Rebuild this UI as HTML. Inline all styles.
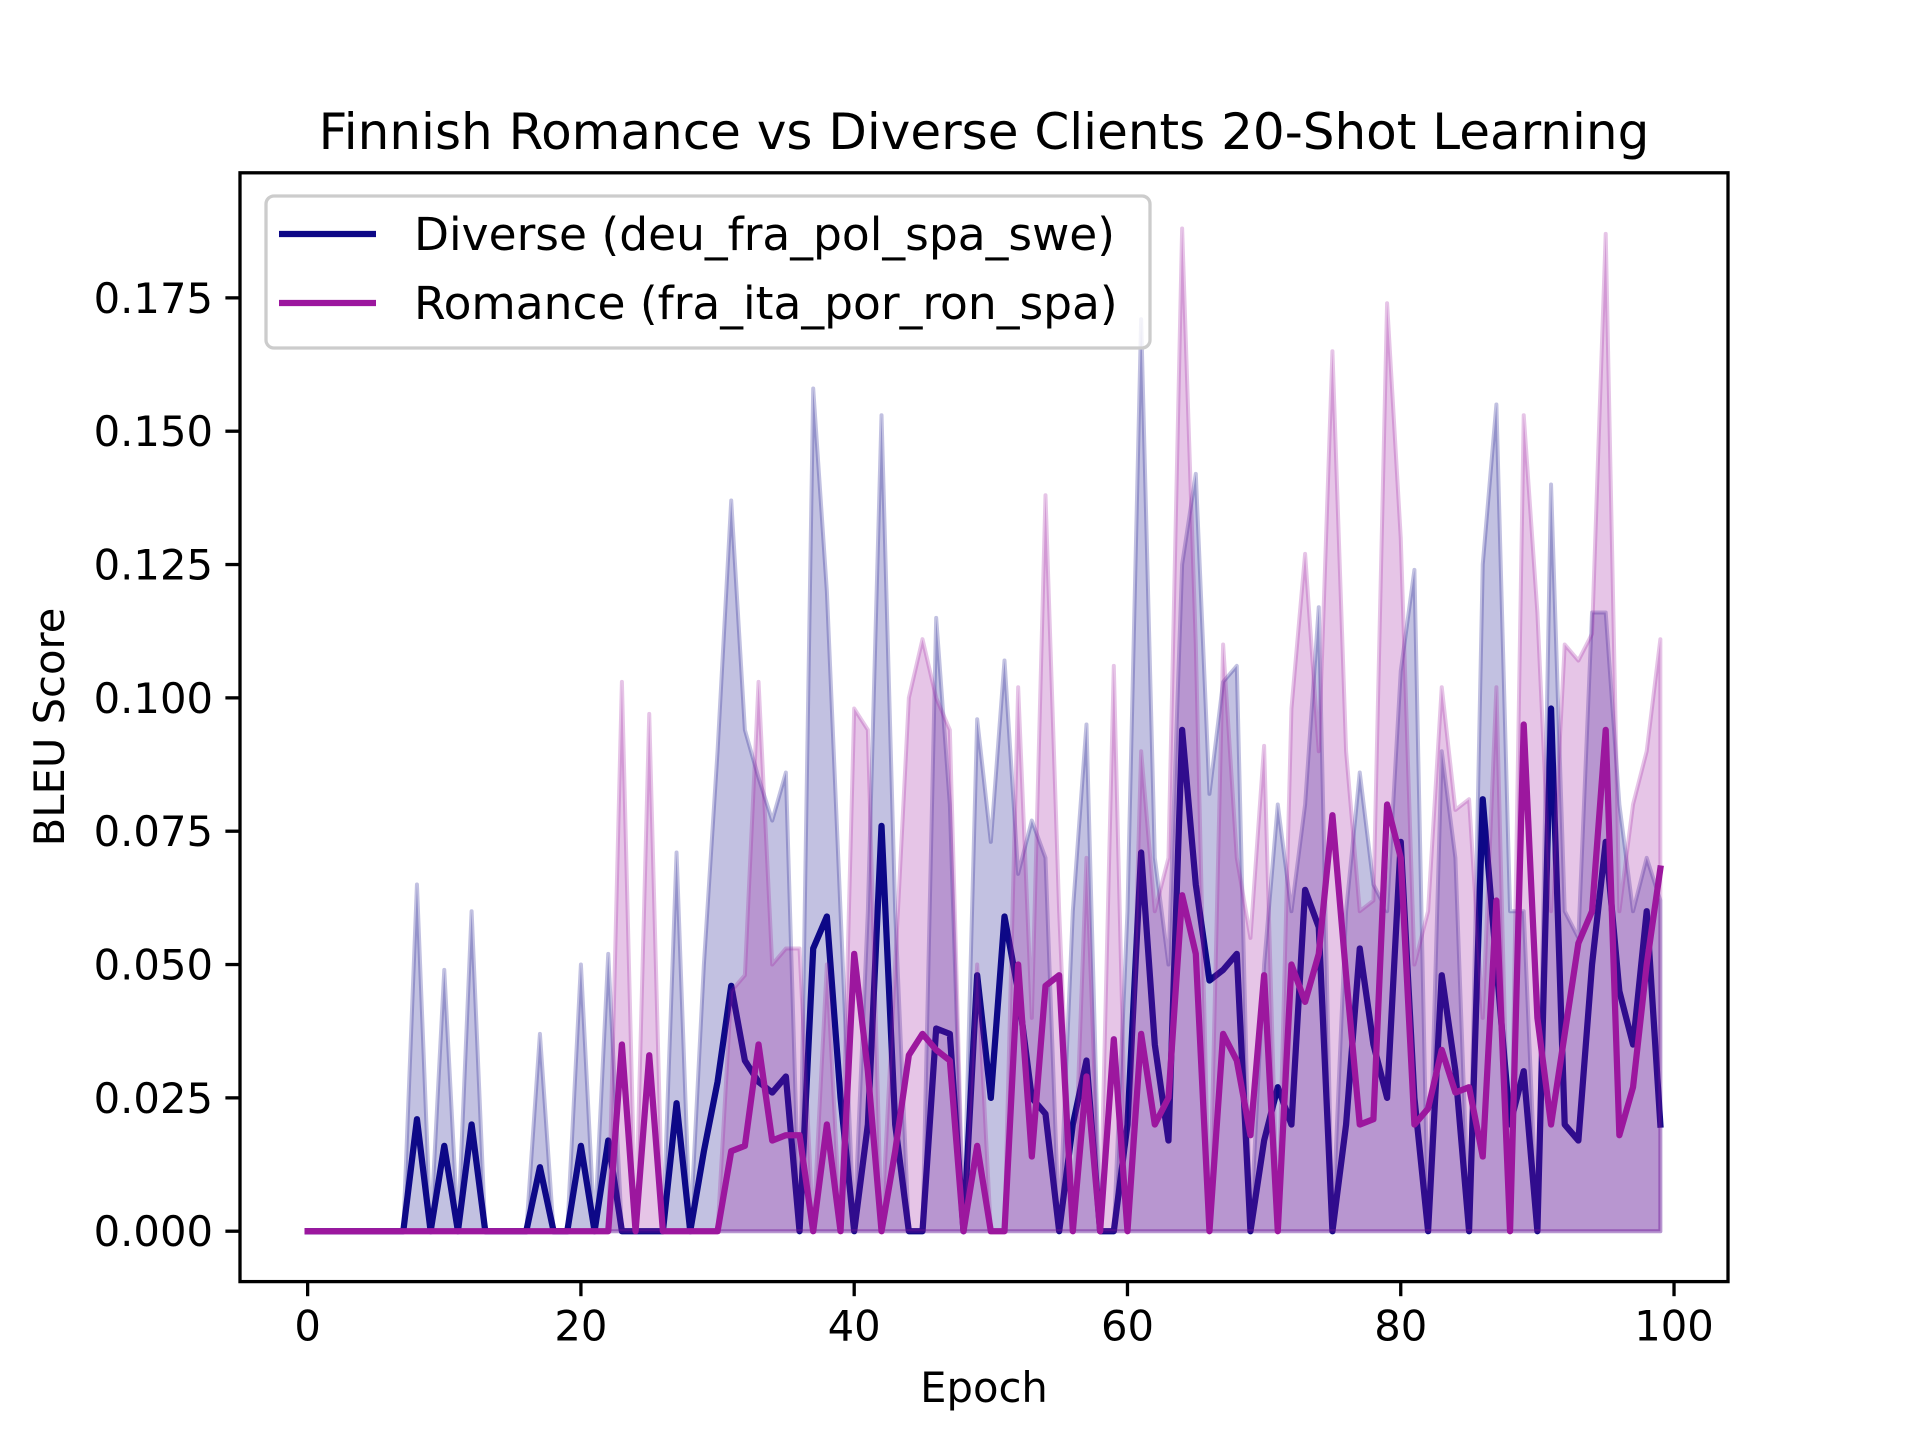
<!DOCTYPE html>
<html><head><meta charset="utf-8"><style>
html,body{margin:0;padding:0;background:#fff;}
svg{display:block;font-family:"DejaVu Sans","Liberation Sans",sans-serif;}
</style></head><body>
<svg id="chart" width="1920" height="1440" viewBox="0 0 1920 1440" xmlns="http://www.w3.org/2000/svg">
<rect width="1920" height="1440" fill="#fff"/>
<text x="984" y="149" font-size="50" text-anchor="middle">Finnish Romance vs Diverse Clients 20-Shot Learning</text>
<g id="plot"></g>
<g id="axes"></g>
<text x="984" y="1402" font-size="41.7" text-anchor="middle">Epoch</text>
<text x="0" y="0" font-size="41.7" text-anchor="middle" transform="translate(64,727) rotate(-90)">BLEU Score</text>
<g>
<rect x="266" y="196" width="884" height="152" rx="8" fill="#fff" fill-opacity="0.8" stroke="#ccc" stroke-width="3.3"/>
<g>
<line x1="279" y1="234" x2="376" y2="234" stroke="#0d0887" stroke-width="6.25"/>
<text x="414" y="250" font-size="45.5">Diverse (deu_fra_pol_spa_swe)</text></g>
<g>
<line x1="279" y1="303" x2="376" y2="303" stroke="#9c179e" stroke-width="6.25"/>
<text x="414" y="319" font-size="45.5">Romance (fra_ita_por_ron_spa)</text></g>
</g>
</svg>
<script>
const epochs = Array.from({length:100},(_,i)=>i);
const diverseMean = [0,0,0,0,0,0,0,0,0.021,0,0.016,0,0.020,0,0,0,0,0.012,0,0,0.016,0,0.017,0,0,0,0,0.024,0,0.015,
0.028,0.046,0.032,0.028,0.026,0.029,0,0.053,0.059,0.025,0,0.02,0.076,0.02,0,0,0.038,0.037,0,0.048,
0.025,0.059,0.045,0.025,0.022,0,0.02,0.032,0,0,0.02,0.071,0.035,0.017,0.094,0.065,0.047,0.049,0.052,0,
0.017,0.027,0.02,0.064,0.057,0,0.02,0.053,0.035,0.025,0.073,0.025,0,0.048,0.03,0,0.081,0.05,0.02,0.03,
0,0.098,0.02,0.017,0.05,0.073,0.045,0.035,0.06,0.02];
const diverseUpper = [0,0,0,0,0,0,0,0,0.065,0,0.049,0,0.06,0,0,0,0,0.037,0,0,0.05,0,0.052,0,0,0,0,0.071,0,0.05,
0.09,0.137,0.094,0.085,0.077,0.086,0,0.158,0.12,0.06,0,0.06,0.153,0.06,0,0,0.115,0.08,0,0.096,
0.073,0.107,0.067,0.077,0.07,0,0.06,0.095,0,0,0.06,0.171,0.07,0.05,0.125,0.142,0.082,0.103,0.106,0,
0.05,0.08,0.06,0.08,0.117,0,0.06,0.086,0.065,0.06,0.105,0.124,0,0.09,0.07,0,0.125,0.155,0.06,0.06,
0,0.14,0.06,0.055,0.116,0.116,0.08,0.06,0.07,0.062];
const diverseLower = new Array(100).fill(0);
const romanceMean = [0,0,0,0,0,0,0,0,0,0,0,0,0,0,0,0,0,0,0,0,0,0,0,0.035,0,0.033,0,0,0,0,
0,0.015,0.016,0.035,0.017,0.018,0.018,0,0.02,0,0.052,0.03,0,0.015,0.033,0.037,0.034,0.032,0,0.016,
0,0,0.05,0.014,0.046,0.048,0,0.029,0,0.036,0,0.037,0.02,0.025,0.063,0.052,0,0.037,0.032,0.018,
0.048,0,0.05,0.043,0.052,0.078,0.048,0.02,0.021,0.08,0.07,0.02,0.023,0.034,0.026,0.027,0.014,0.062,0,0.095,
0.04,0.02,0.037,0.054,0.06,0.094,0.018,0.027,0.05,0.068];
const romanceUpper = [0,0,0,0,0,0,0,0,0,0,0,0,0,0,0,0,0,0,0,0,0,0,0,0.103,0,0.097,0,0,0,0,
0,0.045,0.048,0.103,0.05,0.053,0.053,0,0.05,0,0.098,0.094,0,0.05,0.1,0.111,0.1,0.094,0,0.05,
0,0,0.102,0.04,0.138,0.06,0,0.07,0,0.106,0,0.09,0.06,0.07,0.188,0.11,0,0.11,0.07,0.055,
0.091,0,0.098,0.127,0.09,0.165,0.09,0.06,0.062,0.174,0.13,0.05,0.06,0.102,0.079,0.081,0.04,0.102,0,0.153,
0.116,0.06,0.11,0.107,0.112,0.187,0.06,0.08,0.09,0.111];
const romanceLower = new Array(100).fill(0);
const xTicks = [0,20,40,60,80,100];
const yTicks = [0,0.025,0.05,0.075,0.1,0.125,0.15,0.175];
const yTickLabels = ["0.000","0.025","0.050","0.075","0.100","0.125","0.150","0.175"];

const L=240,R=1728,T=172.8,B=1281.6;
const xMin=-4.95,xMax=103.95,yMin=-0.00945,yMax=0.19845;
const sx=v=>L+(v-xMin)/(xMax-xMin)*(R-L);
const sy=v=>B-(v-yMin)/(yMax-yMin)*(B-T);
const NS="http://www.w3.org/2000/svg";
const plot=document.getElementById('plot');
const axes=document.getElementById('axes');
function mk(tag,attrs,parent){const e=document.createElementNS(NS,tag);for(const k in attrs)e.setAttribute(k,attrs[k]);parent.appendChild(e);return e;}

function band(lower,upper,color,name){
  let d='M'+epochs.map(i=>sx(i)+','+sy(upper[i])).join('L');
  for(let i=epochs.length-1;i>=0;i--) d+='L'+sx(i)+','+sy(lower[i]);
  d+='Z';
  const p=mk('path',{d:d,fill:color,'fill-opacity':0.25,stroke:color,'stroke-opacity':0.25,'stroke-width':4,'stroke-linejoin':'round'},plot);
  
  
}
function line(vals,color,name){
  const d='M'+epochs.map(i=>sx(i)+','+sy(vals[i])).join('L');
  const p=mk('path',{d:d,fill:'none',stroke:color,'stroke-width':6.25,'stroke-linejoin':'round','stroke-linecap':'square'},plot);
  
  
}
band(diverseLower,diverseUpper,'#0d0887','diverse-band');
line(diverseMean,'#0d0887','diverse-line');
band(romanceLower,romanceUpper,'#9c179e','romance-band');
line(romanceMean,'#9c179e','romance-line');

const frame=mk('rect',{x:L,y:T,width:R-L,height:B-T,fill:'none',stroke:'#000','stroke-width':3.3},axes);


xTicks.forEach(t=>{
  const x=sx(t);
  const tk=mk('line',{x1:x,y1:B,x2:x,y2:B+14.6,stroke:'#000','stroke-width':3.3},axes);
  
  
  const tx=mk('text',{x:x,y:B+59,'font-size':41.7,'text-anchor':'middle'},axes);
  tx.textContent=t;
  
  
});
yTicks.forEach((t,i)=>{
  const y=sy(t);
  const tk=mk('line',{x1:L-14.6,y1:y,x2:L,y2:y,stroke:'#000','stroke-width':3.3},axes);
  
  
  const tx=mk('text',{x:L-27,y:y+15,'font-size':41.7,'text-anchor':'end'},axes);
  tx.textContent=yTickLabels[i];
  
  
});
</script>
</body></html>
